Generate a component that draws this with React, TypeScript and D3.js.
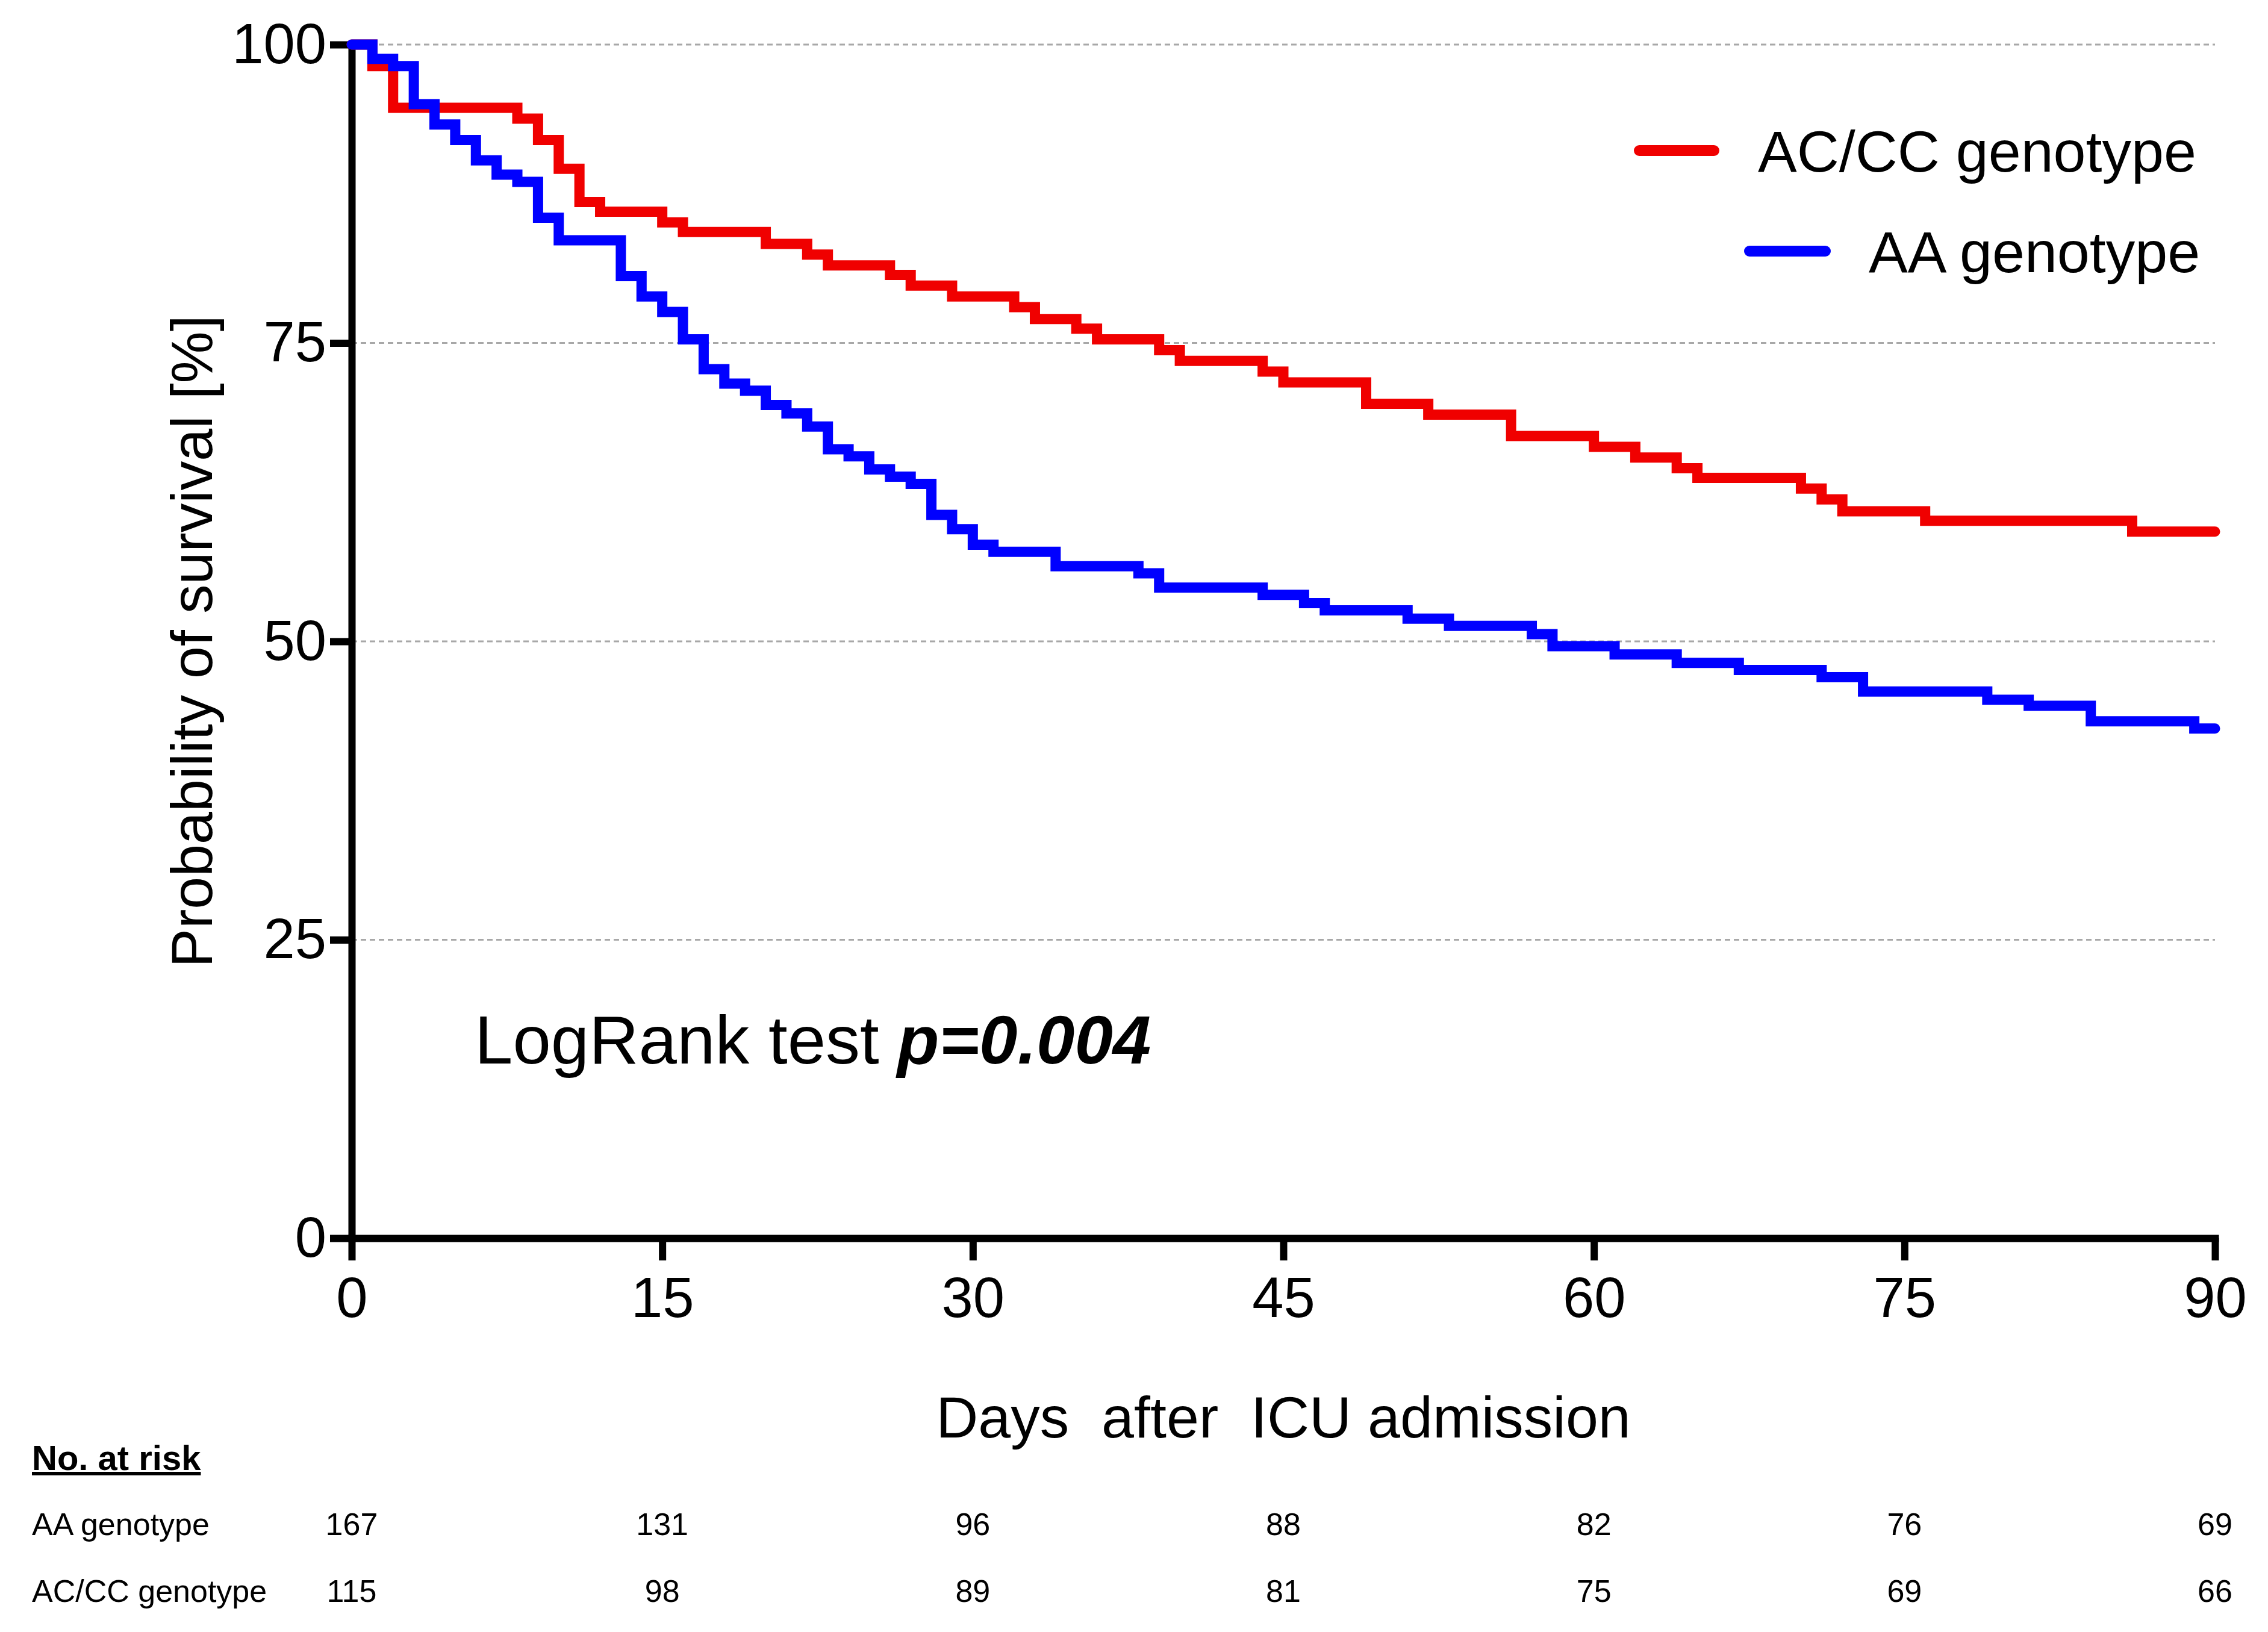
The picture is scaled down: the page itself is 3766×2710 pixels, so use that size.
import React, { useEffect, useRef } from "react";
import * as d3 from "d3";

const W = 3766;
const H = 2710;
const FONT = "'Liberation Sans', Arial, Helvetica, sans-serif";

// axis ticks
const xTicks = [0, 15, 30, 45, 60, 75, 90];
const yTicks = [0, 25, 50, 75, 100];
const gridTicks = [25, 50, 75, 100];

// AC/CC genotype curve (day of drop, survival % after drop)
const acDays = [0, 1, 2, 8, 9, 10, 11, 12, 15, 16, 20, 22, 23, 26, 27, 29, 32, 33, 35, 36, 39, 40, 44, 45, 49, 52, 56, 60, 62, 64, 65, 70, 71, 72, 76, 86];
const acSurv = [100, 98.2, 94.7, 93.8, 92.0, 89.6, 86.8, 86.0, 85.1, 84.3, 83.3, 82.4, 81.5, 80.7, 79.8, 78.9, 78.0, 77.0, 76.2, 75.3, 74.4, 73.5, 72.6, 71.7, 69.9, 69.0, 67.2, 66.3, 65.4, 64.5, 63.7, 62.8, 61.9, 60.9, 60.1, 59.2];

// AA genotype curve
const aaDays = [0, 1, 2, 3, 4, 5, 6, 7, 8, 9, 10, 13, 14, 15, 16, 17, 18, 19, 20, 21, 22, 23, 24, 25, 26, 27, 28, 29, 30, 31, 34, 38, 39, 44, 46, 47, 51, 53, 57, 58, 61, 64, 67, 71, 73, 79, 81, 84, 89];
const aaSurv = [100, 98.8, 98.2, 95.0, 93.3, 92.0, 90.3, 89.1, 88.5, 85.5, 83.6, 80.6, 78.9, 77.6, 75.3, 72.8, 71.6, 71.0, 69.8, 69.1, 68.0, 66.1, 65.5, 64.4, 63.8, 63.2, 60.6, 59.4, 58.1, 57.5, 56.3, 55.7, 54.5, 53.9, 53.2, 52.6, 51.9, 51.3, 50.6, 49.6, 48.9, 48.2, 47.6, 47.0, 45.8, 45.1, 44.6, 43.3, 42.7];

// number at risk table
const riskGroups = ["AA genotype", "AC/CC genotype"];
const aaAtRisk = [167, 131, 96, 88, 82, 76, 69];
const acAtRisk = [115, 98, 89, 81, 75, 69, 66];

const END_DAY = 90;

type Pt = { day: number; surv: number };

const toSteps = (days: number[], surv: number[]): Pt[] => {
  const pts = days.map((d, i) => ({ day: d, surv: surv[i] }));
  pts.push({ day: END_DAY, surv: surv[surv.length - 1] });
  return pts;
};

const series = [
  { name: "AC/CC genotype", color: "#f00000", data: toSteps(acDays, acSurv) },
  { name: "AA genotype", color: "#0000ff", data: toSteps(aaDays, aaSurv) },
];

const App = () => {
  const ref = useRef<SVGSVGElement>(null);

  useEffect(() => {
    const svg = d3.select(ref.current);
    svg.selectAll("*").remove();

    svg.append("rect").attr("width", W).attr("height", H).attr("fill", "#fff");

    //scales
    const x = d3.scaleLinear().domain([0, 90]).range([584, 3678]);
    const y = d3.scaleLinear().domain([0, 100]).range([2056, 74]);

    // dashed grid lines
    svg
      .append("g")
      .selectAll("line")
      .data(gridTicks)
      .enter()
      .append("line")
      .attr("x1", x(0))
      .attr("x2", x(90))
      .attr("y1", (d) => y(d))
      .attr("y2", (d) => y(d))
      .attr("stroke", "#a8a8a8")
      .attr("stroke-width", 3)
      .attr("stroke-dasharray", "9,6");

    // axes
    const xAxis = d3.axisBottom(x).tickValues(xTicks).tickSize(37).tickSizeOuter(0).tickPadding(27);
    const yAxis = d3.axisLeft(y).tickValues(yTicks).tickSize(36).tickSizeOuter(0).tickPadding(6);

    const gx = svg.append("g").attr("transform", `translate(0,${y(0)})`).call(xAxis);
    const gy = svg.append("g").attr("transform", `translate(${x(0)},0)`).call(yAxis);

    [gx, gy].forEach((g) => {
      g.select(".domain").attr("stroke", "#000").attr("stroke-width", 12).attr("stroke-linecap", "square");
      g.selectAll(".tick line").attr("stroke", "#000").attr("stroke-width", 12);
      g.selectAll(".tick text")
        .attr("font-size", 94)
        .attr("font-family", FONT)
        .attr("fill", "#000");
    });

    // survival curves
    const line = d3
      .line<Pt>()
      .x((d) => x(d.day))
      .y((d) => y(d.surv))
      .curve(d3.curveStepAfter);

    svg
      .append("g")
      .selectAll("path")
      .data(series)
      .enter()
      .append("path")
      .attr("d", (d) => line(d.data))
      .attr("fill", "none")
      .attr("stroke", (d) => d.color)
      .attr("stroke-width", 17)
      .attr("stroke-linejoin", "miter")
      .attr("stroke-linecap", "round");

    // legend
    const legendPos = [
      { x1: 2722, x2: 2846, y: 250, tx: 2919, ty: 285 },
      { x1: 2905, x2: 3031, y: 417, tx: 3103, ty: 452 },
    ];
    series.forEach((s, i) => {
      const p = legendPos[i];
      svg
        .append("line")
        .attr("x1", p.x1)
        .attr("x2", p.x2)
        .attr("y1", p.y)
        .attr("y2", p.y)
        .attr("stroke", s.color)
        .attr("stroke-width", 18)
        .attr("stroke-linecap", "round");
      svg
        .append("text")
        .attr("x", p.tx)
        .attr("y", p.ty)
        .attr("font-family", FONT)
        .attr("font-size", 97)
        .text(s.name);
    });

    // axis titles
    svg
      .append("text")
      .attr("transform", "translate(352,1065) rotate(-90)")
      .attr("text-anchor", "middle")
      .attr("font-family", FONT)
      .attr("font-size", 97)
      .text("Probability of survival [%]");

    svg
      .append("text")
      .attr("x", (x(0) + x(90)) / 2)
      .attr("y", 2387)
      .attr("text-anchor", "middle")
      .attr("font-family", FONT)
      .attr("font-size", 97)
      .style("white-space", "pre")
      .text("Days  after  ICU admission");

    // log rank annotation
    const lr = svg
      .append("text")
      .attr("x", 788)
      .attr("y", 1766)
      .attr("font-family", FONT)
      .attr("font-size", 114);
    lr.append("tspan").text("LogRank test");
    lr.append("tspan")
      .attr("dx", 30)
      .attr("font-weight", "bold")
      .attr("font-style", "italic")
      .text("p=0.004");

    // number at risk table
    svg
      .append("text")
      .attr("x", 53)
      .attr("y", 2441)
      .attr("font-family", FONT)
      .attr("font-size", 58)
      .attr("font-weight", "bold")
      .attr("text-decoration", "underline")
      .text("No. at risk");

    const rows = [aaAtRisk, acAtRisk];
    const rowY = [2549, 2660];
    rows.forEach((vals, r) => {
      svg
        .append("text")
        .attr("x", 53)
        .attr("y", rowY[r])
        .attr("font-family", FONT)
        .attr("font-size", 52)
        .text(riskGroups[r]);
      svg
        .append("g")
        .selectAll("text")
        .data(vals)
        .enter()
        .append("text")
        .attr("x", (d, i) => x(xTicks[i]))
        .attr("y", rowY[r])
        .attr("text-anchor", "middle")
        .attr("font-family", FONT)
        .attr("font-size", 52)
        .text((d) => d);
    });
  }, []);

  return (
    <svg
      ref={ref}
      width={W}
      height={H}
      style={{ position: "absolute", left: 0, top: 0, display: "block" }}
    />
  );
};

export default App;
